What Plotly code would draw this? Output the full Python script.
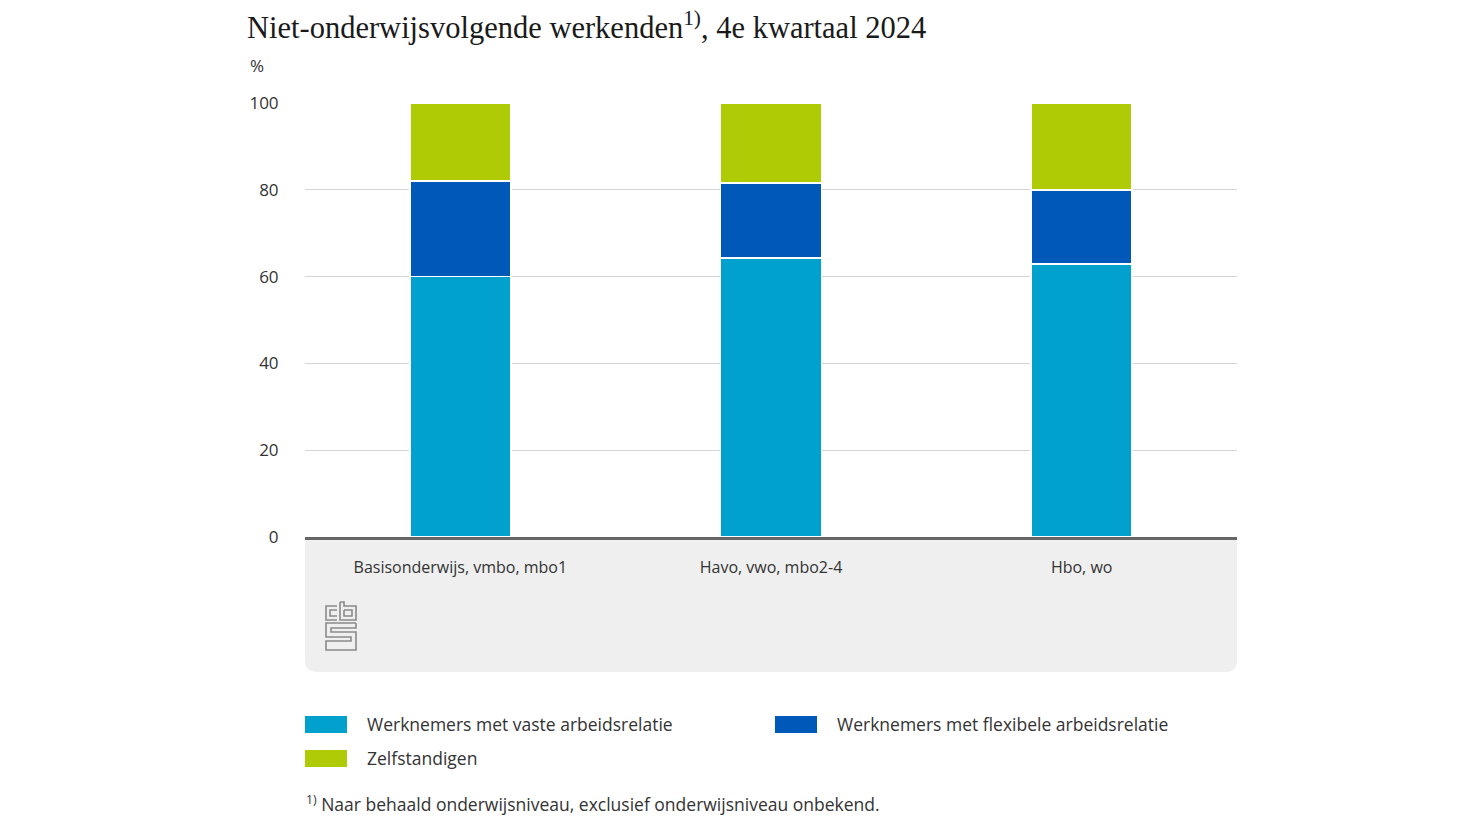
import plotly.graph_objects as go

categories = ["Basisonderwijs, vmbo, mbo1", "Havo, vwo, mbo2-4", "Hbo, wo"]
series_names = ["Werknemers met vaste arbeidsrelatie",
                "Werknemers met flexibele arbeidsrelatie",
                "Zelfstandigen"]
vaste = [60.0, 64.3, 62.9]
flexibel = [22.0, 17.3, 17.1]
zelfstandig = [18.0, 18.4, 20.0]
y_ticks = [0, 20, 40, 60, 80, 100]
colors = ["#00a1cd", "#0058b8", "#afcb05"]

OFF = 8  # page body margin
W, H = 1484 - 2 * OFF, 835 - 2 * OFF
L, R, T, B = 305, 1237, 103, 537  # reference screen pixels
PW, PH = R - L, B - T


def px(x):
    return (x - L) / PW


def py(y):
    return (B - y) / PH


fig = go.Figure()
for name, vals, col in zip(series_names, [vaste, flexibel, zelfstandig], colors):
    fig.add_trace(go.Bar(x=categories, y=vals, name=name,
                         marker=dict(color=col, line=dict(color="white", width=1.5)),
                         showlegend=False, hoverinfo="x+y+name"))

font_body = "Open Sans, Noto Sans, sans-serif"
txt = "#333333"

shapes = []
x0, x1 = px(305), px(1237)
y0, y1 = py(537), py(672)
rx, ry = 12 / PW, 12 / PH
path = (f"M {x0},{y0} L {x1},{y0} L {x1},{y1+ry} Q {x1},{y1} {x1-rx},{y1} "
        f"L {x0+rx},{y1} Q {x0},{y1} {x0},{y1+ry} Z")
shapes.append(dict(type="path", xref="paper", yref="paper", path=path,
                   fillcolor="#efefef", line=dict(width=0), layer="below"))


def pth(points):
    return "M " + " L ".join(f"{px(a)},{py(b)}" for a, b in points)


logo_col = "#8a8a8a"
logo_paths = [
    [(337, 606), (326, 606), (326, 620), (337, 620)],
    [(337, 610), (330, 610), (330, 616), (337, 616)],
    [(340, 602), (340, 620), (356, 620), (356, 606), (344, 606), (344, 602), (340, 602)],
    [(344, 610), (352, 610), (352, 616), (344, 616), (344, 610)],
    [(356, 623), (326, 623), (326, 637), (351, 637), (351, 641), (326, 641), (326, 650), (356, 650),
     (356, 632), (331, 632), (331, 628), (356, 628), (356, 623)],
]
for p in logo_paths:
    shapes.append(dict(type="path", xref="paper", yref="paper", path=pth(p),
                       line=dict(color=logo_col, width=1.6)))

leg = [(305, 716, series_names[0], colors[0], 365, 724),
       (775, 716, series_names[1], colors[1], 835, 724),
       (305, 750, series_names[2], colors[2], 365, 758)]
annotations = []
for sx, sy, name, col, tx, ty in leg:
    shapes.append(dict(type="rect", xref="paper", yref="paper",
                       x0=px(sx), x1=px(sx + 42), y0=py(sy), y1=py(sy + 17),
                       fillcolor=col, line=dict(width=0)))
    annotations.append(dict(text=name, xref="paper", yref="paper", x=px(tx), y=py(ty),
                            xanchor="left", yanchor="middle", showarrow=False,
                            font=dict(family=font_body, size=17.5, color=txt)))

annotations.append(dict(text="%", xref="paper", yref="paper", x=px(248), y=py(66),
                        xanchor="left", yanchor="middle", showarrow=False,
                        font=dict(family=font_body, size=17, color=txt)))
annotations.append(dict(text="<sup>1)</sup> Naar behaald onderwijsniveau, exclusief onderwijsniveau onbekend.",
                        xref="paper", yref="paper", x=px(304), y=py(803),
                        xanchor="left", yanchor="middle", showarrow=False,
                        font=dict(family=font_body, size=17.5, color=txt)))
annotations.append(dict(text="Niet-onderwijsvolgende werkenden<sup>1)</sup>, 4e kwartaal 2024",
                        xref="paper", yref="paper", x=px(246), y=py(OFF), yshift=3,
                        xanchor="left", yanchor="top", showarrow=False, borderpad=0,
                        font=dict(family="Liberation Serif, serif", size=30.5, color="#1a1a1a")))

fig.update_layout(
    width=W, height=H,
    margin=dict(l=L - OFF, r=(W + OFF) - R, t=T - OFF, b=(H + OFF) - B, pad=0),
    barmode="stack", bargap=0.675,
    plot_bgcolor="white", paper_bgcolor="white",
    shapes=shapes, annotations=annotations,
    showlegend=False,
    font=dict(family=font_body, size=16, color=txt),
    xaxis=dict(showline=True, linecolor="#666666", linewidth=3,
               ticks="outside", ticklen=14, tickcolor="rgba(0,0,0,0)",
               tickfont=dict(size=16, color=txt), showgrid=False, fixedrange=True),
    yaxis=dict(range=[0, 100], tickvals=y_ticks, showgrid=True, gridcolor="#d4d4d4",
               gridwidth=1, zeroline=False, showline=False,
               ticks="outside", ticklen=22, tickcolor="rgba(0,0,0,0)",
               tickfont=dict(size=17, color=txt), fixedrange=True),
)

fig.write_html("out.html")
